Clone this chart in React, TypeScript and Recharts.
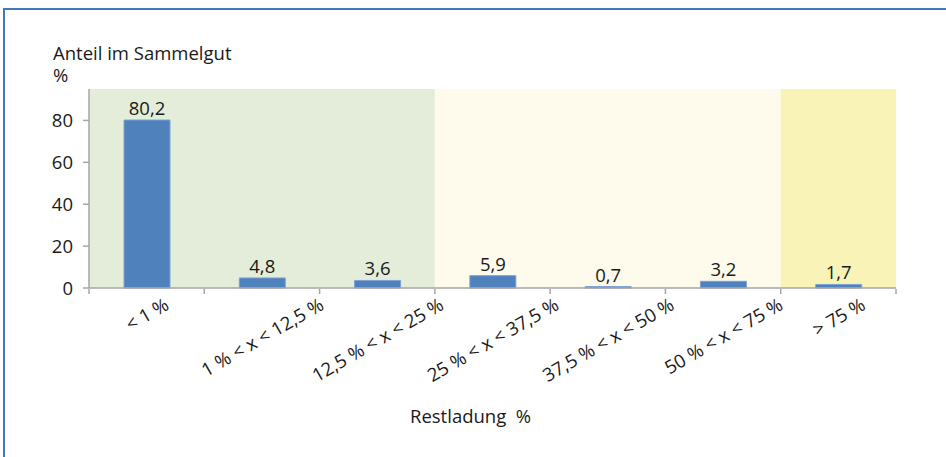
import React from 'react';
import { BarChart, Bar, XAxis, YAxis, ReferenceArea, LabelList } from 'recharts';

const categories = [
  '< 1 %',
  '1 % < x < 12,5 %',
  '12,5 % < x < 25 %',
  '25 % < x < 37,5 %',
  '37,5 % < x < 50 %',
  '50 % < x < 75 %',
  '> 75 %',
];
const shares = [80.2, 4.8, 3.6, 5.9, 0.7, 3.2, 1.7];
const yTicks = [0, 20, 40, 60, 80];
const yMax = 95;
const zoneFrom = [0, 3, 6];
const zoneTo = [3, 6, 7];
const zoneColors = ['#e3edd9', '#fefbec', '#faf3b7'];

const FONT = '"Open Sans", sans-serif';
const FS = 18.5;
const TXT = '#1a1a1a';
const AXIS = '#a6a6a6';

const data = categories.map((c, i) => ({ cat: c, pos: i + 0.5, value: shares[i] }));
const boundaryTicks = Array.from({ length: categories.length + 1 }, (_, i) => i);

let ctx: CanvasRenderingContext2D | null = null;
function measure(text: string): number {
  if (!ctx) ctx = document.createElement('canvas').getContext('2d');
  if (!ctx) return text.length * FS * 0.55;
  ctx.font = `${FS}px "Open Sans"`;
  return ctx.measureText(text).width;
}

const XTick = (props: any) => {
  const { x, y, payload } = props;
  const w = measure(String(payload.value));
  const cy = y + 14 + w / 4;
  return (
    <text
      x={x}
      y={cy}
      textAnchor="middle"
      dominantBaseline="central"
      transform={`rotate(-30, ${x}, ${cy})`}
      fontSize={FS}
      fontFamily={FONT}
      fill={TXT}
    >
      {payload.value}
    </text>
  );
};

const EmptyTick = () => <g />;

const fmt = (v: any) => String(v).replace('.', ',');

export default function App() {
  return (
    <div style={{ position: 'absolute', left: 0, top: 0, width: 946, height: 457, background: '#fff' }}>
      <div
        style={{
          position: 'absolute',
          left: 3,
          top: 8,
          width: 960,
          height: 470,
          borderTop: '2px solid #3f79c0',
          borderLeft: '2px solid #3f79c0',
          pointerEvents: 'none',
        }}
      />
      <div style={{ position: 'absolute', left: 0, top: 0 }}>
        <BarChart
          width={946}
          height={457}
          data={data}
          margin={{ top: 89, right: 50, left: 88, bottom: 167 }}
          style={{ fontFamily: FONT }}
        >
          {zoneColors.map((c, i) => (
            <ReferenceArea
              key={i}
              xAxisId="grid"
              x1={zoneFrom[i]}
              x2={zoneTo[i]}
              y1={0}
              y2={yMax}
              fill={c}
              fillOpacity={1}
              stroke="none"
            />
          ))}
          <XAxis
            dataKey="cat"
            interval={0}
            height={1}
            tickLine={false}
            tickSize={0}
            tickMargin={0}
            axisLine={{ stroke: AXIS, strokeWidth: 1.5 }}
            tick={<XTick />}
          />
          <XAxis
            xAxisId="grid"
            type="number"
            dataKey="pos"
            domain={[0, categories.length]}
            ticks={boundaryTicks}
            interval={0}
            height={1}
            tick={<EmptyTick />}
            tickSize={5}
            tickLine={{ stroke: AXIS, strokeWidth: 1.5 }}
            axisLine={false}
          />
          <YAxis
            width={1}
            domain={[0, yMax]}
            ticks={yTicks}
            interval={0}
            tickSize={6}
            tickMargin={10}
            tickLine={{ stroke: AXIS, strokeWidth: 1.5 }}
            axisLine={{ stroke: AXIS, strokeWidth: 1.5 }}
            tick={{ fontSize: FS, fill: TXT, fontFamily: FONT }}
          />
          <Bar dataKey="value" fill="#4f81bd" stroke="#7ca3d4" strokeWidth={1} barSize={46} isAnimationActive={false}>
            <LabelList
              dataKey="value"
              position="top"
              offset={5}
              formatter={fmt}
              style={{ fontSize: FS, fill: TXT, fontFamily: FONT }}
            />
          </Bar>
          <text x={53} y={60} fontSize={FS} fontFamily={FONT} fill={TXT}>
            Anteil im Sammelgut
          </text>
          <text x={53} y={82} fontSize={FS} fontFamily={FONT} fill={TXT}>
            %
          </text>
          <text x={410} y={423} fontSize={FS} fontFamily={FONT} fill={TXT} style={{ whiteSpace: 'pre' }}>
            {'Restladung  %'}
          </text>
        </BarChart>
      </div>
    </div>
  );
}
